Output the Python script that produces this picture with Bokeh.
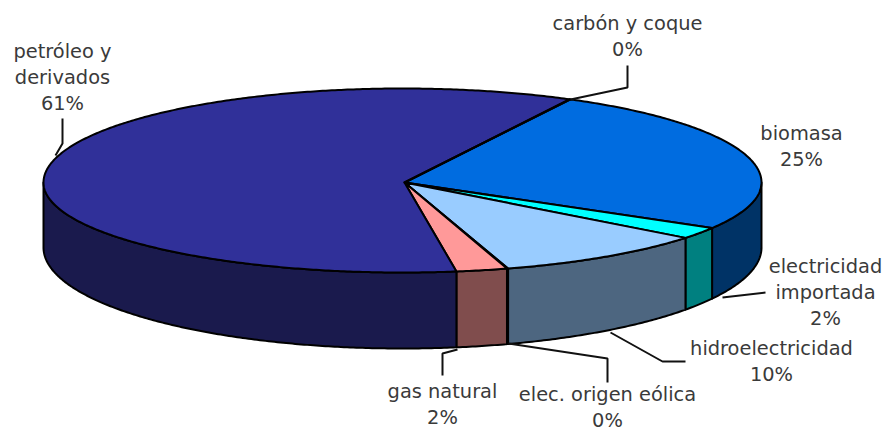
import math
from bokeh.plotting import figure
from bokeh.models import Range1d
from bokeh.core.properties import value
from bokeh.embed import file_html
from bokeh.resources import INLINE

# Data
categories = ["biomasa", "electricidad importada", "hidroelectricidad",
              "elec. origen eólica", "gas natural", "petróleo y derivados", "carbón y coque"]
shares = [25.7, 2.1, 9.7, 0.05, 2.3, 60.1, 0.05]
top_colors = ["#006CE0", "#00FFFF", "#99CCFF", "#CCFFFF", "#FF9999", "#303099", "#FFFFCC"]
side_colors = ["#003366", "#008080", "#4D6680", "#668080", "#804D4D", "#1A1A4D", "#808066"]
label_texts = ["biomasa\n25%", "electricidad\nimportada\n2%", "hidroelectricidad\n10%",
               "elec. origen eólica\n0%", "gas natural\n2%", "petróleo y\nderivados\n61%",
               "carbón y coque\n0%"]

# Layout of the pseudo-3D projection (screen pixels of the reference)
START_DEG = 27.9
CX, CY = 402, 182
APEX = (404, 182)
RX, RY_BACK, RY_FRONT = 359, 94, 90
BASE_CY, BASE_RY = 247, 101
label_pos = [(801, 146), (825, 292), (771, 361), (607, 407), (442, 404), (62, 77), (627, 36)]
leaders = [
    ([722, 765], [297, 292]),
    ([610, 662, 685], [332, 361, 361]),
    ([508, 607, 607], [343, 358, 382]),
    ([457, 442, 442], [349, 353, 375]),
    ([62, 62, 55], [118, 143, 155]),
    ([627, 627, 570], [65, 87, 99]),
]


def rim(deg):
    a = math.radians(deg)
    s, c = math.sin(a), math.cos(a)
    return CX + RX * s, CY - c * (RY_BACK if c > 0 else RY_FRONT)


def base(deg):
    a = math.radians(deg)
    return CX + RX * math.sin(a), BASE_CY - BASE_RY * math.cos(a)


def arc(f, a0, a1):
    n = max(2, int(abs(a1 - a0) * 2) + 1)
    return [f(a0 + (a1 - a0) * i / (n - 1)) for i in range(n)]


p = figure(width=883, height=432, output_backend="svg", toolbar_location=None,
           x_range=Range1d(0, 883), y_range=Range1d(432, 0), min_border=0,
           outline_line_color=None, background_fill_color="white")
p.xaxis.visible = False
p.yaxis.visible = False
p.grid.visible = False

# Slice spans
spans = []
cur = START_DEG
total = sum(shares)
for v in shares:
    nxt = cur + v / total * 360
    spans.append((cur, nxt))
    cur = nxt

side_x, side_y, side_c = [], [], []
top_x, top_y, top_c = [], [], []
for (a0, a1), tc, sc in zip(spans, top_colors, side_colors):
    pts = arc(rim, a0, a1)
    top_x.append([APEX[0]] + [q[0] for q in pts])
    top_y.append([APEX[1]] + [q[1] for q in pts])
    top_c.append(tc)
    # wall: only the part of the rim facing the viewer (90..270 degrees)
    lo, hi = max(a0, 90), min(a1, 270)
    if hi > lo:
        t = arc(rim, lo, hi)
        b = arc(base, hi, lo)
        side_x.append([q[0] for q in t] + [q[0] for q in b])
        side_y.append([q[1] for q in t] + [q[1] for q in b])
        side_c.append(sc)

p.patches(side_x, side_y, fill_color=side_c, line_color="black", line_width=2, line_join="round")
p.patches(top_x, top_y, fill_color=top_c, line_color="black", line_width=2, line_join="round")

for xs, ys in leaders:
    p.line(xs, ys, line_color="#111111", line_width=2)

p.text([q[0] for q in label_pos], [q[1] for q in label_pos], text=label_texts,
       text_font=value("DejaVu Sans"), text_font_size="19.4px", text_color="#3a3a3a",
       text_align="center", text_baseline="middle", text_line_height=1.15)

open("out.html", "w").write(file_html(p, INLINE))
